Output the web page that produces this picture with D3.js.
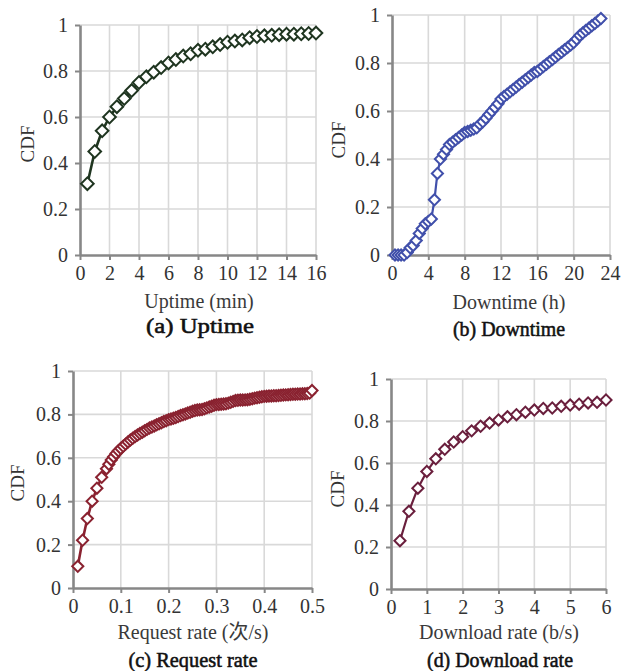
<!DOCTYPE html>
<html>
<head>
<meta charset="utf-8">
<script src="https://cdn.jsdelivr.net/npm/d3@7"></script>
<style>
  html, body { margin: 0; padding: 0; background: #ffffff; }
  svg { display: block; }
</style>
</head>
<body>
<svg id="fig" width="623" height="671"></svg>
<script>
// ---- shared y ticks (CDF) ----
const cdfTicks = [0, 0.2, 0.4, 0.6, 0.8, 1];

// ---- (a) Uptime, minutes ----
const uptimeTicks = [0, 2, 4, 6, 8, 10, 12, 14, 16];
const uptimeX = [0.5, 1, 1.5, 2, 2.5, 3, 3.5, 4, 4.5, 5, 5.5, 6, 6.5, 7, 7.5, 8,
  8.5, 9, 9.5, 10, 10.5, 11, 11.5, 12, 12.5, 13, 13.5, 14, 14.5, 15, 15.5, 16];
const uptimeCdf = [0.31, 0.45, 0.54, 0.60, 0.645, 0.68, 0.715, 0.75, 0.775, 0.795, 0.815, 0.835, 0.85, 0.865, 0.875, 0.89,
  0.895, 0.905, 0.915, 0.925, 0.93, 0.935, 0.945, 0.95, 0.953, 0.955, 0.958, 0.96, 0.96, 0.962, 0.963, 0.965];

// ---- (b) Downtime, hours ----
const downtimeTicks = [0, 4, 8, 12, 16, 20, 24];
const downtimeX = [0.33, 0.67, 1.00, 1.33, 1.67, 2.00, 2.33, 2.67, 3.00, 3.33, 3.67, 4.00,
  4.33, 4.67, 5.00, 5.33, 5.67, 6.00, 6.33, 6.67, 7.00, 7.33, 7.67, 8.00,
  8.33, 8.67, 9.00, 9.33, 9.67, 10.00, 10.33, 10.67, 11.00, 11.33, 11.67, 12.00,
  12.33, 12.67, 13.00, 13.33, 13.67, 14.00, 14.33, 14.67, 15.00, 15.33, 15.67, 16.00,
  16.33, 16.67, 17.00, 17.33, 17.67, 18.00, 18.33, 18.67, 19.00, 19.33, 19.67, 20.00,
  20.33, 20.67, 21.00, 21.33, 21.67, 22.00, 22.33, 22.67, 23.00];
const downtimeCdf = [0.00, 0.00, 0.00, 0.00, 0.01, 0.03, 0.04, 0.06, 0.09, 0.11, 0.13, 0.14,
  0.15, 0.23, 0.34, 0.40, 0.42, 0.44, 0.46, 0.47, 0.48, 0.49, 0.50, 0.51,
  0.515, 0.52, 0.525, 0.53, 0.545, 0.555, 0.57, 0.585, 0.60, 0.615, 0.63, 0.65,
  0.66, 0.67, 0.68, 0.69, 0.70, 0.71, 0.72, 0.73, 0.74, 0.75, 0.76, 0.765,
  0.775, 0.785, 0.795, 0.805, 0.815, 0.825, 0.835, 0.845, 0.855, 0.865, 0.875, 0.885,
  0.90, 0.915, 0.925, 0.935, 0.945, 0.955, 0.965, 0.975, 0.985];

// ---- (c) Request rate, 次/s ----
const requestTicks = [0, 0.1, 0.2, 0.3, 0.4, 0.5];
const requestX = [0.01, 0.02, 0.03, 0.04, 0.05, 0.06, 0.07, 0.075, 0.08, 0.085, 0.09, 0.095,
  0.10, 0.105, 0.11, 0.115, 0.12, 0.125, 0.13, 0.135, 0.14, 0.145, 0.15, 0.155,
  0.16, 0.165, 0.17, 0.175, 0.18, 0.185, 0.19, 0.195, 0.20, 0.205, 0.21, 0.215,
  0.22, 0.225, 0.23, 0.235, 0.24, 0.245, 0.25, 0.255, 0.26, 0.265, 0.27, 0.275,
  0.28, 0.285, 0.29, 0.295, 0.30, 0.305, 0.31, 0.315, 0.32, 0.325, 0.33, 0.335,
  0.34, 0.345, 0.35, 0.355, 0.36, 0.365, 0.37, 0.375, 0.38, 0.385, 0.39, 0.395,
  0.40, 0.405, 0.41, 0.415, 0.42, 0.425, 0.43, 0.435, 0.44, 0.445, 0.45, 0.455,
  0.46, 0.465, 0.47, 0.475, 0.48, 0.485, 0.49, 0.495, 0.50];
const requestCdf = [0.10, 0.22, 0.32, 0.40, 0.46, 0.51, 0.55, 0.57, 0.59, 0.605, 0.62, 0.632,
  0.643, 0.653, 0.663, 0.673, 0.682, 0.69, 0.698, 0.705, 0.712, 0.718, 0.725, 0.731,
  0.737, 0.742, 0.747, 0.752, 0.757, 0.762, 0.767, 0.771, 0.776, 0.779, 0.782, 0.786,
  0.79, 0.795, 0.798, 0.802, 0.806, 0.81, 0.815, 0.818, 0.82, 0.821, 0.823, 0.826,
  0.83, 0.834, 0.838, 0.842, 0.845, 0.846, 0.847, 0.848, 0.849, 0.852, 0.856, 0.86,
  0.864, 0.865, 0.866, 0.866, 0.867, 0.868, 0.87, 0.872, 0.875, 0.877, 0.879, 0.881,
  0.883, 0.884, 0.885, 0.885, 0.886, 0.886, 0.887, 0.888, 0.889, 0.89, 0.891, 0.892,
  0.893, 0.893, 0.894, 0.894, 0.895, 0.895, 0.896, 0.898, 0.91];

// ---- (d) Download rate, b/s ----
const downloadTicks = [0, 1, 2, 3, 4, 5, 6];
const downloadX = [0.25, 0.5, 0.75, 1, 1.25, 1.5, 1.75, 2, 2.25, 2.5, 2.75, 3,
  3.25, 3.5, 3.75, 4, 4.25, 4.5, 4.75, 5, 5.25, 5.5, 5.75, 6];
const downloadCdf = [0.23, 0.37, 0.48, 0.56, 0.62, 0.665, 0.70, 0.725, 0.753, 0.775, 0.79, 0.805,
  0.82, 0.83, 0.842, 0.852, 0.86, 0.862, 0.87, 0.876, 0.88, 0.886, 0.889, 0.90];

const FONT = '"Liberation Serif", "Times New Roman", "Noto Sans CJK SC", serif';
const AXIS_COLOR = '#878787';
const GRID_COLOR = '#d9d9d9';

const panels = [
  { xs: uptimeX, ys: uptimeCdf, xTicks: uptimeTicks, xMax: 16,
    box: { left: 80, right: 316, top: 25, bottom: 255 },
    color: '#1f3520', symbolSize: 80, lineWidth: 2.6,
    yLabelX: 27, yLabelY: 144, titleX: 199, xTitle: 'Uptime (min)', titleBase: 308,
    caption: '(a) Uptime', captionX: 200, captionBase: 333, captionW: 108 },
  { xs: downtimeX, ys: downtimeCdf, xTicks: downtimeTicks, xMax: 24,
    box: { left: 392, right: 610, top: 15, bottom: 255 },
    color: '#4150ab', symbolSize: 62, lineWidth: 2.2,
    yLabelX: 338, yLabelY: 140, titleX: 509, xTitle: 'Downtime (h)', titleBase: 309,
    caption: '(b) Downtime', captionX: 509, captionBase: 336, captionW: 112 },
  { xs: requestX, ys: requestCdf, xTicks: requestTicks, xMax: 0.5,
    box: { left: 73, right: 312, top: 371, bottom: 588 },
    color: '#8a2230', symbolSize: 62, lineWidth: 2.6,
    yLabelX: 17, yLabelY: 483, titleX: 193, xTitle: 'Request rate (次/s)', titleBase: 639,
    caption: '(c) Request rate', captionX: 193, captionBase: 667, captionW: 129 },
  { xs: downloadX, ys: downloadCdf, xTicks: downloadTicks, xMax: 6,
    box: { left: 391, right: 606, top: 379, bottom: 589 },
    color: '#6a1f3d', symbolSize: 62, lineWidth: 2.2,
    yLabelX: 337, yLabelY: 489, titleX: 499, xTitle: 'Download rate (b/s)', titleBase: 639,
    caption: '(d) Download rate', captionX: 500, captionBase: 667, captionW: 146 }
];

const svg = d3.select('#fig');
svg.append('rect').attr('width', 623).attr('height', 671).attr('fill', '#ffffff');

panels.forEach(p => {
  const b = p.box;
  const x = d3.scaleLinear().domain([0, p.xMax]).range([b.left, b.right]);
  const y = d3.scaleLinear().domain([0, 1]).range([b.bottom, b.top]);
  const g = svg.append('g');

  // light grid, including the top and right frame lines
  g.append('g').selectAll('line.h').data(cdfTicks.filter(d => d > 0)).join('line')
    .attr('x1', b.left).attr('x2', b.right)
    .attr('y1', d => y(d)).attr('y2', d => y(d))
    .attr('stroke', GRID_COLOR).attr('stroke-width', 1.6);
  g.append('g').selectAll('line.v').data(p.xTicks.filter(d => d > 0)).join('line')
    .attr('x1', d => x(d)).attr('x2', d => x(d))
    .attr('y1', b.top).attr('y2', b.bottom)
    .attr('stroke', GRID_COLOR).attr('stroke-width', 1.6);

  // axes
  const yAxis = g.append('g').attr('transform', `translate(${b.left},0)`)
    .call(d3.axisLeft(y).tickValues(cdfTicks).tickFormat(d => String(d))
      .tickSize(5).tickSizeOuter(0).tickPadding(7));
  const xAxis = g.append('g').attr('transform', `translate(0,${b.bottom})`)
    .call(d3.axisBottom(x).tickValues(p.xTicks).tickFormat(d => String(d))
      .tickSize(5).tickSizeOuter(0).tickPadding(6));
  [yAxis, xAxis].forEach(ax => {
    ax.select('.domain').attr('stroke', AXIS_COLOR).attr('stroke-width', 2.6);
    ax.selectAll('.tick line').attr('stroke', AXIS_COLOR).attr('stroke-width', 2);
    ax.selectAll('.tick text').attr('fill', '#333333')
      .style('font-family', FONT).style('font-size', '20px');
  });

  // series line and hollow diamond markers
  const pts = p.xs.map((v, i) => [v, p.ys[i]]);
  g.append('path').datum(pts)
    .attr('fill', 'none').attr('stroke', p.color).attr('stroke-width', p.lineWidth)
    .attr('stroke-linejoin', 'round')
    .attr('d', d3.line().x(d => x(d[0])).y(d => y(d[1])));
  const sym = d3.symbol().type(d3.symbolSquare).size(p.symbolSize);
  g.append('g').selectAll('path').data(pts).join('path')
    .attr('transform', d => `translate(${x(d[0])},${y(d[1])}) rotate(45)`)
    .attr('d', sym)
    .attr('fill', '#ffffff').attr('stroke', p.color).attr('stroke-width', 2);

  // labels
  g.append('text')
    .attr('transform', `translate(${p.yLabelX},${p.yLabelY}) rotate(-90)`)
    .attr('text-anchor', 'middle').attr('dy', '0.35em')
    .attr('fill', '#333333').style('font-family', FONT).style('font-size', '19px')
    .text('CDF');
  g.append('text')
    .attr('x', p.titleX).attr('y', p.titleBase).attr('text-anchor', 'middle')
    .attr('fill', '#3a3a3a').style('font-family', FONT).style('font-size', '20px')
    .text(p.xTitle);
  // sub-figure caption: semi-bold look via a thin outline on regular weight
  g.append('text')
    .attr('x', p.captionX).attr('y', p.captionBase).attr('text-anchor', 'middle')
    .attr('fill', '#111111').attr('stroke', '#111111').attr('stroke-width', 0.55)
    .style('font-family', FONT).style('font-size', '21px')
    .attr('textLength', p.captionW).attr('lengthAdjust', 'spacingAndGlyphs')
    .text(p.caption);
});
</script>
</body>
</html>
